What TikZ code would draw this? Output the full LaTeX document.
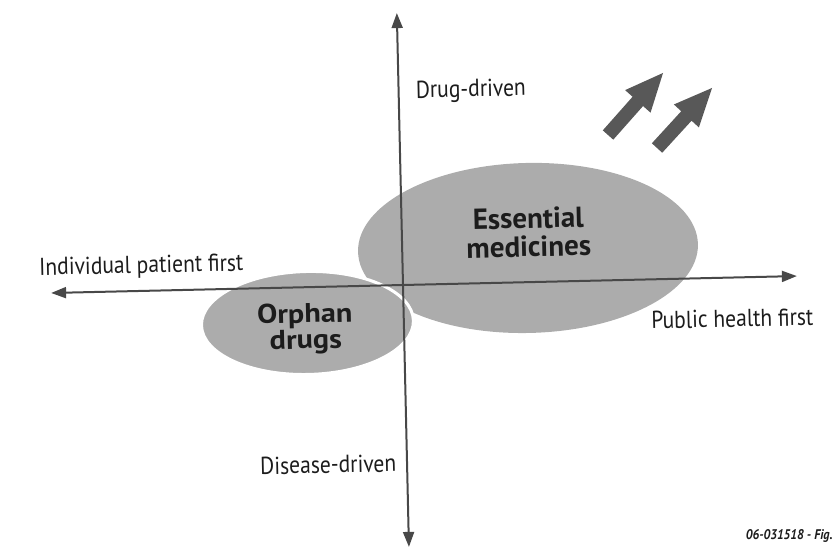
\documentclass[tikz,border=0pt]{standalone}
\usepackage{fontspec}
\setmainfont{PT Sans}[FakeStretch=0.88]
\newfontfamily\titlefont{PT Sans}
\usetikzlibrary{arrows.meta,calc,shapes.geometric}

\definecolor{blobgray}{RGB}{172,172,172}
\definecolor{axisgray}{RGB}{72,72,72}
\definecolor{arrowgray}{RGB}{88,88,88}
\definecolor{ink}{RGB}{28,28,28}

% thick block arrow from tail #1 to tip #2
\newcommand\blockarrow[2]{%
  \coordinate (#2-base) at ($(#2)!38pt!(#1)$);
  \fill[bigarrow]
    ($(#1)!7pt!90:(#2)$) --
    ($(#2-base)!7pt!90:(#2)$) --
    ($(#2-base)!17pt!90:(#2)$) --
    (#2) --
    ($(#2-base)!17pt!-90:(#2)$) --
    ($(#2-base)!7pt!-90:(#2)$) --
    ($(#1)!7pt!-90:(#2)$) -- cycle;
}

\begin{document}
\begin{tikzpicture}[x=1pt,y=-1pt,
  axis/.style={draw=axisgray, line width=2pt, {Triangle[length=15pt,width=11pt]}-{Triangle[length=15pt,width=11pt]}},
  blob/.style={ellipse, fill=blobgray, inner sep=0pt},
  axislabel/.style={font=\fontsize{24.5}{28}\selectfont, text=ink, inner sep=0pt, anchor=base},
  esstitle/.style={font=\titlefont\bfseries\fontsize{29}{29}\selectfont, text=ink, inner sep=0pt, anchor=base, xscale=1.0},
  orphtitle/.style={font=\titlefont\bfseries\fontsize{27}{27}\selectfont, text=ink, inner sep=0pt, anchor=base, xscale=1.12},
  bigarrow/.style={fill=arrowgray},
  figtag/.style={font=\bfseries\itshape\fontsize{14}{16}\selectfont, text=ink, inner sep=0pt, anchor=base east}]
\useasboundingbox (0,0) rectangle (835,552);

\begin{scope}[rotate around={1.3:(403,285)}, transform shape]
  % the two groups
  \node[blob, minimum width=340pt, minimum height=170pt] (ess) at (528.8,250.8) {};
  \node[blob, draw=white, line width=3pt, minimum width=212pt, minimum height=103pt] (orph) at (306.6,320.8) {};

  % axes
  \coordinate (west)  at (51,285);
  \coordinate (east)  at (797,285);
  \coordinate (north) at (403,13);
  \coordinate (south) at (403,547);
  \draw[axis] (west) -- (east);
  \draw[axis] (north) -- (south);

  % axis labels
  \node[axislabel] (drug)    at (475.3,98.5)  {Drug-driven};
  \node[axislabel] (disease) at (324.2,471.3) {Disease-driven};
  \node[axislabel] (indiv)   at (141.8,267.1) {Individual patient first};
  \node[axislabel] (public)  at (731.5,334.5) {Public health first};

  % group titles
  \node[esstitle]  (ess1)  at (529.8,231.2) {Essential};
  \node[esstitle]  (ess2)  at (529.6,259.6) {medicines};
  \node[orphtitle] (orph1) at (304.1,320.5) {Orphan};
  \node[orphtitle] (orph2) at (304.6,346.5) {drugs};

  % upward trend arrows
  \coordinate (tailA) at (611.4,139.7);
  \coordinate (tipA)  at (667.8,78.9);
  \coordinate (tailB) at (660.1,153.8);
  \coordinate (tipB)  at (716.5,95);
  \blockarrow{tailA}{tipA}
  \blockarrow{tailB}{tipB}
\end{scope}

\node[figtag] (tag) at (833,539) {06-031518 - Fig.};
\end{tikzpicture}
\end{document}
